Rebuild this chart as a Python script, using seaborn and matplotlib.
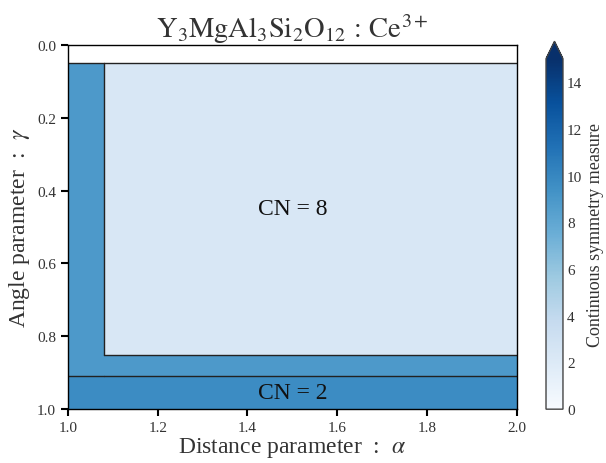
import numpy as np
import matplotlib
matplotlib.use("Agg")
import matplotlib.pyplot as plt
import seaborn as sns

# ---- data ----
alpha_edges = [1.0, 1.08, 2.0]                 # distance parameter region limits
gamma_edges = [0.0, 0.05, 0.85, 0.91, 1.0]     # angle parameter region limits
region_id = [[0, 0],                          # 0 = no solution
             [1, 2],
             [1, 1],
             [3, 3]]
region_csm = {0: np.nan, 1: 8.9, 2: 2.4, 3: 9.7}
cn_labels = ["CN = 8", "CN = 2"]
cn_label_pos = [(1.5, 0.45), (1.5, 0.955)]
x_ticks = [1.0, 1.2, 1.4, 1.6, 1.8, 2.0]
y_ticks = [0.0, 0.2, 0.4, 0.6, 0.8, 1.0]
cbar_ticks = [0, 2, 4, 6, 8, 10, 12, 14]
title = "$\\mathrm{Y_3MgAl_3Si_2O_{12}\\,:\\,Ce^{3+}}$"

sns.set_theme(style="ticks")
plt.rcParams["font.family"] = ["Liberation Serif", "DejaVu Serif"]
plt.rcParams["mathtext.fontset"] = "stix"

fig = plt.figure(figsize=(6.06, 4.64), dpi=100)
ax = fig.add_axes([0.112, 0.116, 0.741, 0.785])
cax = fig.add_axes([0.901, 0.116, 0.028, 0.793])

ids = np.array(region_id)
vals = np.vectorize(lambda k: region_csm[k])(ids).astype(float)
vals = np.ma.masked_invalid(vals)
mesh = ax.pcolormesh(alpha_edges, gamma_edges, vals, cmap="Blues",
                     vmin=0, vmax=15, shading="flat")

# region boundaries
ny, nx = ids.shape
for i in range(ny):
    for j in range(nx):
        if j + 1 < nx and ids[i, j] != ids[i, j + 1]:
            ax.plot([alpha_edges[j + 1]] * 2, [gamma_edges[i], gamma_edges[i + 1]],
                    color="#222222", lw=1.0)
        if i + 1 < ny and ids[i, j] != ids[i + 1, j]:
            ax.plot([alpha_edges[j], alpha_edges[j + 1]], [gamma_edges[i + 1]] * 2,
                    color="#222222", lw=1.0)

for lab, (px, py) in zip(cn_labels, cn_label_pos):
    ax.text(px, py, lab, ha="center", va="center", fontsize=17, color="#111111")

ax.set_xlim(1.0, 2.0)
ax.set_ylim(1.0, 0.0)
ax.set_xticks(x_ticks)
ax.set_yticks(y_ticks)
ax.set_xticklabels([f"{t:.1f}" for t in x_ticks])
ax.set_yticklabels([f"{t:.1f}" for t in y_ticks])
ax.tick_params(axis="both", labelsize=11, length=5, width=1.5, color="black",
               labelcolor="#333333")
for s in ax.spines.values():
    s.set_color("black")
    s.set_linewidth(1.0)
ax.set_xlabel("Distance parameter  :  $\\alpha$", fontsize=17, color="#333333", labelpad=1)
ax.set_ylabel("Angle parameter  :  $\\gamma$", fontsize=17, color="#333333", labelpad=4)
ax.set_title(title, fontsize=20.5, color="#333333", pad=3)

cb = fig.colorbar(mesh, cax=cax, extend="max", ticks=cbar_ticks)
cb.outline.set_edgecolor("#444444")
cb.outline.set_linewidth(1.0)
cb.ax.tick_params(labelsize=11, length=0, labelcolor="#333333", pad=3)
cb.set_label("Continuous symmetry measure", fontsize=13, color="#333333", labelpad=3)

fig.savefig("out.png", dpi=100)
